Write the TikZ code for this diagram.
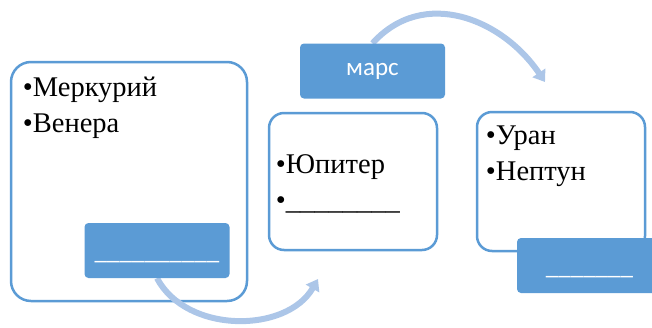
\documentclass[tikz,border=0pt]{standalone}
\usepackage{fontspec}
\setmainfont{Liberation Serif}
\newfontfamily\itemfont{Liberation Serif}
\newfontfamily\tagfont{Carlito}
\usepackage{tikz}
\usetikzlibrary{arrows.meta}
\usetikzlibrary{positioning}

\definecolor{boxblue}{RGB}{91,155,213}
\definecolor{arrowblue}{RGB}{172,198,232}

\pgfdeclarelayer{front}
\pgfsetlayers{main,front}

\begin{document}
\begin{tikzpicture}[x=1pt,y=-1pt,
  >={Triangle[width=15pt,length=11pt]},
  group/.style={draw=boxblue,line width=2.5pt,fill=white,rectangle,rounded corners=15pt,inner sep=0pt},
  tag/.style={fill=boxblue,rectangle,rounded corners=4pt,minimum width=145pt,minimum height=55pt,inner sep=0pt,text=white,font=\tagfont\fontsize{25}{30}\selectfont},
  low/.style={text height=17pt,text depth=0pt},
  flow/.style={->,draw=arrowblue,line width=6pt}]
      \tikzstyle{items}=[align=left,inner sep=0pt,font=\itemfont\fontsize{28.5}{36}\selectfont]

     \useasboundingbox (0,0) rectangle (652,327);

     % the three groups
     \node [group,minimum width=236pt,minimum height=239pt,rounded corners=20pt] (G1) at (129,181.5) {};
     \node [group,minimum width=168pt,minimum height=137pt] (G2) at (353,181.5) {};
     \node [group,minimum width=168pt,minimum height=139pt] (G3) at (561,181.5) {};

     \node [items,below right=16pt and 13pt of G1.north west] (I1) {•Меркурий\\•Венера};
     \node [items,below right=43pt and 8pt of G2.north west] (I2) {•Юпитер\\•\_\_\_\_\_\_\_\_};
     \node [items,below right=15pt and 10pt of G3.north west] (I3) {•Уран\\•Нептун};

     % headings
     \begin{pgfonlayer}{front}
     \node [tag,low] (T1) at (157,250.5) {\_\_\_\_\_\_\_\_\_\_};
     \node [tag] (T2) at (372.5,71) {марс};
     \node [tag,low] (T3) at (589.5,265.5) {\_\_\_\_\_\_\_};
     \end{pgfonlayer}

     \coordinate (E1) at (318,279);
     \coordinate (E2) at (545,82);

       \path
	(T1.south) edge[flow] [out=-62,in=-120] (E1)
	(T2.north) edge[flow] [out=48,in=124,looseness=1.1] (E2);

  \end{tikzpicture}
\end{document}
